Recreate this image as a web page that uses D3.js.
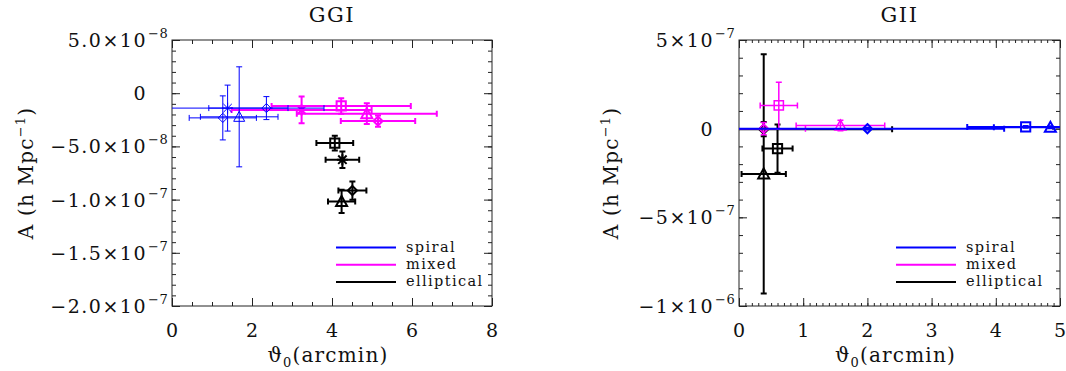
<!DOCTYPE html>
<html><head><meta charset="utf-8">
<script src="https://cdn.jsdelivr.net/npm/d3@7"></script>
<style>
html,body{margin:0;padding:0;background:#fff;}
text{font-family:"DejaVu Serif",serif;fill:#111;}
</style></head>
<body><svg id="c" width="1066" height="371"></svg>
<script>
// ---------------- DATA ----------------
const seriesNames = ["spiral", "mixed", "elliptical"];
const seriesColors = ["#0000ff", "#ff00ff", "#000000"];

// GGI panel
const ggiSpiralX = [1.39, 2.36, 1.27, 1.68];
const ggiSpiralXErr = [1.51, 1.44, 0.84, 0.97];
const ggiSpiralY = [-1.40e-8, -1.40e-8, -2.32e-8, -2.22e-8];
const ggiSpiralYErr = [2.16e-8, 1.08e-8, 2.07e-8, 4.70e-8];
const ggiSpiralSym = ["asterisk", "diamond", "diamond", "triangle"];

const ggiMixedX = [3.24, 4.23, 4.87, 5.15];
const ggiMixedXErr = [1.75, 1.74, 1.75, 0.93];
const ggiMixedY = [-1.57e-8, -1.20e-8, -1.92e-8, -2.62e-8];
const ggiMixedYErr = [1.25e-8, 0.73e-8, 0.97e-8, 0.53e-8];
const ggiMixedSym = ["asterisk", "square", "triangle", "diamond"];

const ggiEllX = [4.07, 4.26, 4.51, 4.24];
const ggiEllXErr = [0.46, 0.42, 0.35, 0.34];
const ggiEllY = [-4.69e-8, -6.25e-8, -9.15e-8, -10.17e-8];
const ggiEllYErr = [0.69e-8, 0.78e-8, 0.86e-8, 1.10e-8];
const ggiEllSym = ["square", "asterisk", "diamond", "triangle"];

// GII panel
const giiSpiralX = [2.00, 4.465, 4.85];
const giiSpiralXErr = [2.13, 0.91, 0.88];
const giiSpiralY = [0.0, 0.10e-7, 0.08e-7];
const giiSpiralYErr = [0.05e-7, 0.05e-7, 0.05e-7];
const giiSpiralSym = ["diamond", "square", "triangle"];

const giiMixedX = [0.385, 0.62, 1.58];
const giiMixedXErr = [0.65, 0.29, 0.69];
const giiMixedY = [0.0, 1.31e-7, 0.18e-7];
const giiMixedYErr = [0.35e-7, 1.31e-7, 0.30e-7];
const giiMixedSym = ["diamond", "square", "triangle"];

const giiEllX = [0.385, 0.60, 0.385];
const giiEllXErr = [2.00, 0.235, 0.345];
const giiEllY = [-0.03e-7, -1.12e-7, -2.55e-7];
const giiEllYErr = [0.40e-7, 1.36e-7, 6.75e-7];
const giiEllSym = ["diamond", "square", "triangle"];

// Axes / ticks
const ggiXDomain = [0, 8];
const ggiYDomain = [-2.0e-7, 5.0e-8];
const ggiXTicks = [0, 2, 4, 6, 8];
const ggiXTickLabels = ["0", "2", "4", "6", "8"];
const ggiYTicks = [5e-8, 0, -5e-8, -1e-7, -1.5e-7, -2e-7];
const ggiYTickLabels = ["5.0×10^−8", "0", "−5.0×10^−8", "−1.0×10^−7", "−1.5×10^−7", "−2.0×10^−7"];

const giiXDomain = [0, 5];
const giiYDomain = [-1.0e-6, 5.0e-7];
const giiXTicks = [0, 1, 2, 3, 4, 5];
const giiXTickLabels = ["0", "1", "2", "3", "4", "5"];
const giiYTicks = [5e-7, 0, -5e-7, -1e-6];
const giiYTickLabels = ["5×10^−7", "0", "−5×10^−7", "−1×10^−6"];

// ---------------- DRAWING ----------------
const svg = d3.select("#c");

function symPath(type) {
  const p = d3.path();
  if (type === "diamond") { const r = 4.6; p.moveTo(0,-r); p.lineTo(r,0); p.lineTo(0,r); p.lineTo(-r,0); p.closePath(); }
  else if (type === "square") { const r = 4.6; p.rect(-r,-r,2*r,2*r); }
  else if (type === "triangle") { p.moveTo(0,-5.5); p.lineTo(5.5,4.5); p.lineTo(-5.5,4.5); p.closePath(); }
  else if (type === "asterisk") { const r = 5.5, d = 4.2;
    p.moveTo(-r,0); p.lineTo(r,0); p.moveTo(0,-r); p.lineTo(0,r);
    p.moveTo(-d,-d); p.lineTo(d,d); p.moveTo(-d,d); p.lineTo(d,-d); }
  return p.toString();
}

function drawPanel(cfg) {
  const {id, box, xDomain, yDomain, xTicks, xLabels, yTicks, yLabels, xMinor, yMinor, title, series, legend, widths, xMinorLen} = cfg;
  const x = d3.scaleLinear().domain(xDomain).range([box.x0, box.x1]);
  const y = d3.scaleLinear().domain(yDomain).range([box.y1, box.y0]);
  const g = svg.append("g");

  svg.append("clipPath").attr("id", "clip" + id).append("rect")
    .attr("x", box.x0).attr("y", box.y0).attr("width", box.x1 - box.x0).attr("height", box.y1 - box.y0);

  g.append("rect").attr("x", box.x0).attr("y", box.y0).attr("width", box.x1 - box.x0).attr("height", box.y1 - box.y0)
    .attr("fill", "none").attr("stroke", "#222").attr("stroke-width", 1);

  const xMinorVals = d3.range(xDomain[0], xDomain[1] + 1e-9, xMinor);
  const yMinorVals = d3.range(0, 50).map(i => yDomain[0] + i * yMinor).filter(v => v <= yDomain[1] + 1e-20);
  const tickStyle = sel => { sel.select(".domain").remove(); sel.selectAll("line").attr("stroke", "#222").attr("stroke-width", 1); sel.selectAll("text").remove(); };
  g.append("g").attr("transform", `translate(0,${box.y1})`).call(d3.axisBottom(x).tickValues(xMinorVals).tickSize(-xMinorLen)).call(tickStyle);
  g.append("g").attr("transform", `translate(0,${box.y1})`).call(d3.axisBottom(x).tickValues(xTicks).tickSize(-8)).call(tickStyle);
  g.append("g").attr("transform", `translate(0,${box.y0})`).call(d3.axisTop(x).tickValues(xMinorVals).tickSize(-xMinorLen)).call(tickStyle);
  g.append("g").attr("transform", `translate(0,${box.y0})`).call(d3.axisTop(x).tickValues(xTicks).tickSize(-8)).call(tickStyle);
  g.append("g").attr("transform", `translate(${box.x0},0)`).call(d3.axisLeft(y).tickValues(yMinorVals).tickSize(-4)).call(tickStyle);
  g.append("g").attr("transform", `translate(${box.x0},0)`).call(d3.axisLeft(y).tickValues(yTicks).tickSize(-8)).call(tickStyle);
  g.append("g").attr("transform", `translate(${box.x1},0)`).call(d3.axisRight(y).tickValues(yMinorVals).tickSize(-4)).call(tickStyle);
  g.append("g").attr("transform", `translate(${box.x1},0)`).call(d3.axisRight(y).tickValues(yTicks).tickSize(-8)).call(tickStyle);

  xTicks.forEach((v, i) => {
    g.append("text").attr("x", x(v)).attr("y", box.y1 + 31).attr("text-anchor", "middle")
      .attr("font-size", 19).text(xLabels[i]);
  });
  yTicks.forEach((v, i) => {
    const parts = yLabels[i].split("^");
    const xr = box.x0 - 25;
    g.append("text").attr("x", xr).attr("y", y(v) + 7).attr("text-anchor", "end")
      .attr("font-size", 19).attr("letter-spacing", "1.5px").text(parts[0]);
    if (parts[1]) {
      g.append("text").attr("x", xr + 1).attr("y", y(v) - 2).attr("text-anchor", "start")
        .attr("font-size", 13).attr("letter-spacing", "0.5px").text(parts[1]);
    }
  });

  g.append("text").attr("x", (box.x0 + box.x1) / 2).attr("y", 22).attr("text-anchor", "middle")
    .attr("font-size", 21).attr("letter-spacing", "1.5px").text(title);

  const xt = g.append("text").attr("x", (box.x0 + box.x1) / 2 - 4).attr("y", 362).attr("text-anchor", "middle")
    .attr("font-size", 20).attr("letter-spacing", "1.2px");
  xt.append("tspan").text("ϑ");
  xt.append("tspan").attr("font-size", 13).attr("dy", 5).text("0");
  xt.append("tspan").attr("dy", -5).text("(arcmin)");

  const yt = g.append("text").attr("transform", `translate(${cfg.yTitleX},${(box.y0 + box.y1) / 2}) rotate(-90)`)
    .attr("text-anchor", "middle").attr("font-size", 20).attr("letter-spacing", "1.2px");
  yt.append("tspan").text("A (h Mpc");
  yt.append("tspan").attr("font-size", 13).attr("dy", -8).text("−1");
  yt.append("tspan").attr("dy", 8).text(")");

  const dg = g.append("g").attr("clip-path", `url(#clip${id})`);
  const order = [2, 1, 0];
  order.forEach(si => {
    const s = series[si];
    const col = seriesColors[si];
    const sw = widths[si];
    const cap = 3;
    s.x.forEach((xv, k) => {
      const cx = x(xv), cy = y(s.y[k]);
      const xl = x(xv - s.xe[k]), xr = x(xv + s.xe[k]);
      const yt2 = y(s.y[k] + s.ye[k]), yb = y(s.y[k] - s.ye[k]);
      const p = d3.path();
      p.moveTo(xl, cy); p.lineTo(xr, cy);
      p.moveTo(xl, cy - cap); p.lineTo(xl, cy + cap);
      p.moveTo(xr, cy - cap); p.lineTo(xr, cy + cap);
      p.moveTo(cx, yt2); p.lineTo(cx, yb);
      p.moveTo(cx - cap, yt2); p.lineTo(cx + cap, yt2);
      p.moveTo(cx - cap, yb); p.lineTo(cx + cap, yb);
      dg.append("path").attr("d", p.toString()).attr("fill", "none").attr("stroke", col).attr("stroke-width", sw);
      dg.append("path").attr("d", symPath(s.sym[k])).attr("transform", `translate(${cx},${cy})`)
        .attr("fill", "none").attr("stroke", col).attr("stroke-width", sw);
    });
  });

  seriesNames.forEach((name, i) => {
    const ly = legend.y + i * 17.2;
    g.append("line").attr("x1", legend.x).attr("x2", legend.x + 60).attr("y1", ly).attr("y2", ly)
      .attr("stroke", seriesColors[i]).attr("stroke-width", 2);
    g.append("text").attr("x", legend.x + 70).attr("y", ly + 4.5).attr("font-size", 14.5)
      .attr("letter-spacing", "1.4px").text(name);
  });
}

drawPanel({
  id: "ggi", box: {x0: 172, x1: 492, y0: 40, y1: 306},
  xDomain: ggiXDomain, yDomain: ggiYDomain, xTicks: ggiXTicks, xLabels: ggiXTickLabels,
  yTicks: ggiYTicks, yLabels: ggiYTickLabels, xMinor: 0.5, yMinor: 1e-8, xMinorLen: 4,
  title: "GGI", yTitleX: 33,
  series: [
    {x: ggiSpiralX, xe: ggiSpiralXErr, y: ggiSpiralY, ye: ggiSpiralYErr, sym: ggiSpiralSym},
    {x: ggiMixedX, xe: ggiMixedXErr, y: ggiMixedY, ye: ggiMixedYErr, sym: ggiMixedSym},
    {x: ggiEllX, xe: ggiEllXErr, y: ggiEllY, ye: ggiEllYErr, sym: ggiEllSym}
  ],
  widths: [1, 2, 2],
  legend: {x: 336, y: 247.5}
});

drawPanel({
  id: "gii", box: {x0: 739, x1: 1060, y0: 40, y1: 306},
  xDomain: giiXDomain, yDomain: giiYDomain, xTicks: giiXTicks, xLabels: giiXTickLabels,
  yTicks: giiYTicks, yLabels: giiYTickLabels, xMinor: 0.1, yMinor: 1e-7, xMinorLen: 3,
  title: "GII", yTitleX: 618,
  series: [
    {x: giiSpiralX, xe: giiSpiralXErr, y: giiSpiralY, ye: giiSpiralYErr, sym: giiSpiralSym},
    {x: giiMixedX, xe: giiMixedXErr, y: giiMixedY, ye: giiMixedYErr, sym: giiMixedSym},
    {x: giiEllX, xe: giiEllXErr, y: giiEllY, ye: giiEllYErr, sym: giiEllSym}
  ],
  widths: [2, 1.5, 2],
  legend: {x: 896, y: 247.5}
});
</script>
</body></html>
